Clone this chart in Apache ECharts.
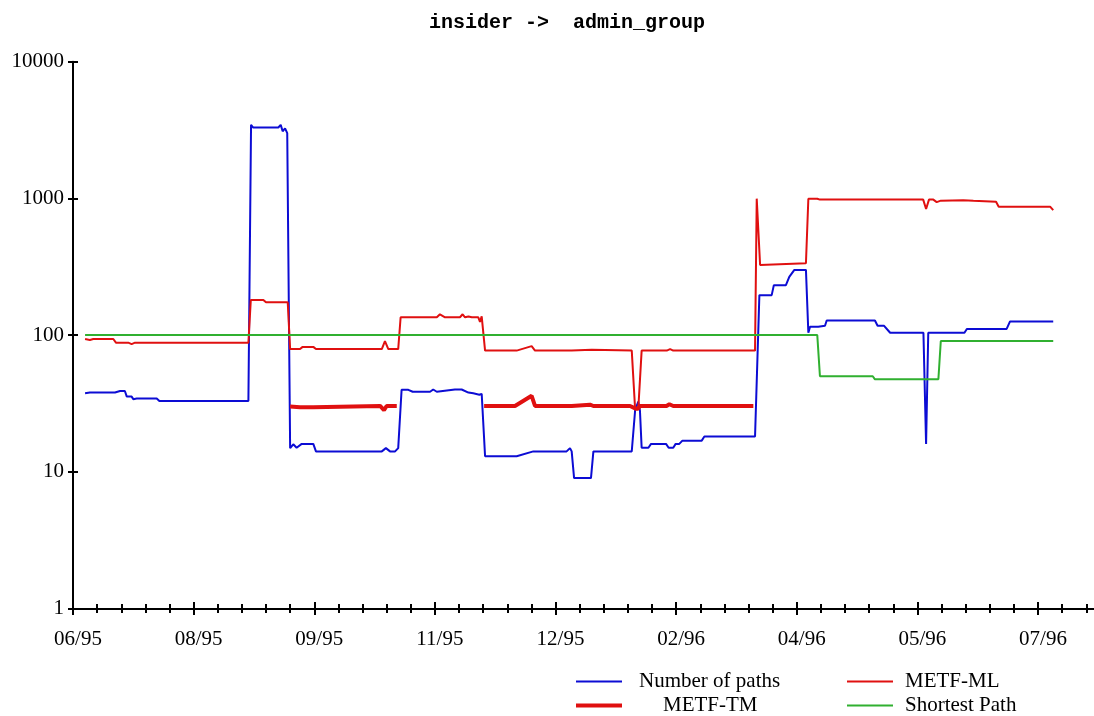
<!DOCTYPE html>
<html><head><meta charset="utf-8">
<script src="https://cdn.jsdelivr.net/npm/echarts@6/dist/echarts.min.js"></script>
<style>html,body{margin:0;padding:0;background:#fff}#c{width:1094px;height:716px}</style>
</head><body><div id="c"></div>
<script>
// x = time in axis tick units (one minor tick per unit, labelled every 5 units)
const xTickLabels = ['06/95','08/95','09/95','11/95','12/95','02/96','04/96','05/96','07/96'];
const majorTicks = [0,5,10,15,20,25,30,35,40];
const minorTicks = [1,2,3,4,6,7,8,9,11,12,13,14,16,17,18,19,21,22,23,24,26,27,28,29,31,32,33,34,36,37,38,39,41,42];
const seriesNames = ['Number of paths','METF-ML','METF-TM','Shortest Path'];

const numberOfPaths = [
 [0.50,37.5],[0.70,38],[1.74,38],[1.95,39],[2.15,39],[2.23,35.5],[2.43,35.5],[2.50,34],[2.64,34.4],[3.47,34.4],[3.58,33],[7.27,33],
 [7.38,3450],[7.47,3300],[8.51,3300],[8.61,3450],[8.69,3100],[8.79,3250],[8.88,3000],
 [9.00,14.9],[9.13,15.9],[9.27,15],[9.48,16],[9.96,16],[10.07,14.1],[12.80,14.1],[12.97,14.9],[13.14,14.1],[13.35,14.1],[13.48,14.9],
 [13.62,39.8],[13.90,39.8],[14.08,38.5],[14.80,38.5],[14.93,40],[15.08,38.5],[15.83,40],[16.11,40],[16.39,38],[16.59,37.5],[16.84,36.6],[16.94,37.2],
 [17.08,13],[18.39,13],[19.08,14.1],[20.46,14.1],[20.60,14.9],[20.67,14.1],[20.77,9],[21.47,9],[21.57,14.1],[23.16,14.1],
 [23.30,28.2],[23.43,32.6],[23.50,28],[23.57,15],[23.85,15],[23.96,16],[24.58,16],[24.69,15],[24.88,15],[24.98,16],[25.13,16],[25.26,16.9],[26.06,16.9],[26.17,18.1],[28.27,18.1],
 [28.45,196],[28.96,196],[29.05,232],[29.55,232],[29.69,267],[29.90,300],[30.38,300],
 [30.48,104],[30.55,115],[30.89,115],[30.96,117],[31.17,117],[31.24,128],[33.24,128],[33.35,117],[33.62,117],[33.87,104],[35.25,104],[35.36,16],[35.45,104],
 [36.95,104],[37.05,111],[38.70,111],[38.84,126],[40.63,126]
];
const metfML = [
 [0.50,93.6],[0.70,92],[0.84,93.6],[1.67,93.6],[1.78,88],[2.29,88],[2.43,86],[2.57,88],[7.27,88],
 [7.37,181],[7.89,181],[8.00,174],[8.90,174],
 [9.00,79],[9.41,79],[9.52,82],[9.96,82],[10.07,79],[12.80,79],[12.93,90.5],[13.07,79],[13.48,79],
 [13.58,135],[15.08,135],[15.21,142],[15.42,135],[16.04,135],[16.15,142],[16.25,135],[16.39,137],[16.53,135],[16.80,135],[16.87,125],[16.94,137],
 [17.08,77],[18.39,77],[19.01,83],[19.15,77],[20.67,77],[20.74,78],[21.50,78],[21.57,77],[23.16,77],[23.30,28.6],[23.43,28.6],[23.57,77],
 [24.61,77],[24.75,79],[24.88,77],[28.27,77],
 [28.34,996],[28.48,326],[30.38,335],[30.48,995],[30.85,995],[30.96,980],[35.24,980],[35.36,836],[35.48,980],[35.66,980],[35.80,940],[35.97,963],
 [36.90,970],[37.32,960],[38.26,946],[38.37,870],[40.50,870],[40.63,820]
];
const metfTM = [
 [9.00,30],[9.41,29.7],[9.96,29.7],[10.03,30.3],[12.73,30.3],[12.89,28.3],[13.00,30.3],[13.42,30.3],
 [15.00,'-'],
 [17.04,30.3],[18.32,30.3],[19.01,36],[19.15,30.3],[20.67,30.3],[20.74,31],[21.43,31],[21.57,30.3],[23.09,30.3],[23.30,29.1],[23.43,29.1],[23.50,30.3],
 [24.60,30.3],[24.72,31.2],[24.88,30.3],[28.20,30.3]
];
const shortestPath = [
 [0.50,100],[30.85,100],[30.96,50],[33.15,50],[33.24,47.5],[35.87,47.5],[35.97,90.5],[40.63,90.5]
];

const SERIF = 'Liberation Serif';
const X_MAX = 42.32;
const BLUE = '#0c0cd4', RED = '#e01010', GREEN = '#30b030';

function xAxisDef(ticks, inside, len, withLine, withLabels) {
  return {
    type: 'value', min: 0, max: X_MAX, interval: 1, position: 'bottom',
    splitLine: { show: false },
    axisLine: { show: withLine, onZero: false, lineStyle: { color: '#000', width: 2 } },
    axisTick: { show: true, inside: inside, length: len, customValues: ticks, lineStyle: { color: '#000', width: 2 } },
    minorTick: { show: false },
    axisLabel: {
      show: withLabels, margin: 20, fontFamily: SERIF, fontSize: 21, color: '#000',
      customValues: majorTicks, padding: [0, 0, 0, 10],
      formatter: v => xTickLabels[Math.round(v / 5)] || ''
    }
  };
}
function yAxisDef(inside, withLabels) {
  return {
    type: 'log', logBase: 10, min: 1, max: 10000, position: 'left',
    splitLine: { show: false },
    axisLine: { show: !inside, onZero: false, lineStyle: { color: '#000', width: 2 } },
    axisTick: { show: true, inside: inside, length: 5, lineStyle: { color: '#000', width: 2 } },
    axisLabel: {
      show: withLabels, margin: 9, fontFamily: SERIF, fontSize: 21, color: '#000',
      formatter: v => String(Math.round(v))
    }
  };
}
function lineSeries(name, data, color, width) {
  return {
    name, type: 'line', data, color, symbol: 'none', showSymbol: false,
    xAxisIndex: 0, yAxisIndex: 0, connectNulls: false,
    lineStyle: { color, width }, emphasis: { disabled: true }, silent: true
  };
}
function legendDef(name, left, top, h, pad) {
  return {
    data: [name], left, top, padding: 0, itemWidth: 46, itemHeight: h, icon: 'rect',
    selectedMode: false,
    textStyle: { fontFamily: SERIF, fontSize: 21, color: '#000', padding: [0, 0, 0, pad] }
  };
}

const chart = echarts.init(document.getElementById('c'), null, { renderer: 'canvas' });
chart.setOption({
  animation: false,
  backgroundColor: '#fff',
  title: {
    text: 'insider ->  admin_group', left: 429, top: 13, padding: 0,
    textStyle: { fontFamily: 'Liberation Mono', fontWeight: 'bold', fontSize: 20, color: '#000' }
  },
  grid: { left: 73, top: 61.7, right: 0, bottom: 107.5, containLabel: false },
  xAxis: [
    xAxisDef(majorTicks, false, 6.5, true, true),
    xAxisDef(majorTicks, true, 6.5, false, false),
    xAxisDef(minorTicks, false, 4.5, false, false),
    xAxisDef(minorTicks, true, 4.5, false, false)
  ],
  yAxis: [yAxisDef(false, true), yAxisDef(true, false)],
  legend: [
    legendDef(seriesNames[0], 576, 671, 2, 12),
    legendDef(seriesNames[2], 576, 695, 4, 36),
    legendDef(seriesNames[1], 847, 671, 2, 7),
    legendDef(seriesNames[3], 847, 695, 2, 7)
  ],
  series: [
    lineSeries(seriesNames[0], numberOfPaths, BLUE, 2),
    lineSeries(seriesNames[1], metfML, RED, 2),
    lineSeries(seriesNames[2], metfTM, RED, 4),
    lineSeries(seriesNames[3], shortestPath, GREEN, 2)
  ]
});
</script></body></html>
